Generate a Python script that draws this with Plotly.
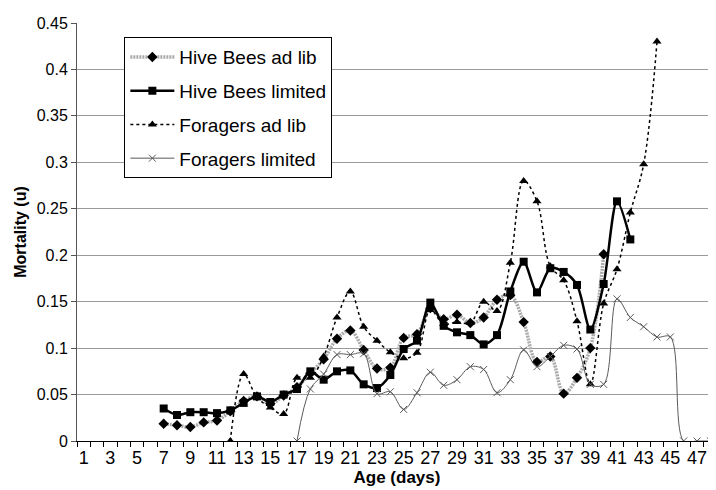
import plotly.graph_objects as go

# ages (days) for each series
dias_hive_adlib = list(range(7, 41))
dias_hive_lim = list(range(7, 43))
dias_forr_adlib = list(range(12, 45))
dias_forr_lim = list(range(17, 49))

hive_adlib = [0.0185, 0.017, 0.015, 0.02, 0.022, 0.032, 0.043, 0.048, 0.04, 0.049,
              0.058, 0.073, 0.088, 0.11, 0.119, 0.098, 0.078, 0.079, 0.111, 0.115,
              0.143, 0.131, 0.136, 0.127, 0.133, 0.152, 0.157, 0.128, 0.085, 0.091,
              0.051, 0.068, 0.1, 0.201]

hive_lim = [0.035, 0.028, 0.031, 0.031, 0.030, 0.033, 0.041, 0.048, 0.042, 0.050,
            0.056, 0.075, 0.066, 0.075, 0.076, 0.061, 0.057, 0.071, 0.099, 0.108,
            0.149, 0.124, 0.117, 0.114, 0.104, 0.114, 0.161, 0.193, 0.16, 0.186,
            0.182, 0.168, 0.12, 0.169, 0.258, 0.217]

forr_adlib = [0, 0.072, 0.047, 0.036, 0.029, 0.068, 0.068, 0.091, 0.133, 0.161,
              0.123, 0.108, 0.0955, 0.089, 0.095, 0.141, 0.126, 0.128, 0.127, 0.15,
              0.14, 0.192, 0.28, 0.258, 0.188, 0.173, 0.129, 0.061, 0.148, 0.185,
              0.246, 0.298, 0.43]

forr_lim = [0, 0.056, 0.072, 0.093, 0.093, 0.094, 0.051, 0.053, 0.034, 0.052,
            0.074, 0.06, 0.066, 0.08, 0.077, 0.052, 0.066, 0.098, 0.08, 0.091,
            0.103, 0.099, 0.061, 0.061, 0.153, 0.133, 0.123, 0.112, 0.112, 0,
            0, 0]

rotulos_x = list(range(1, 48, 2))
fronteiras_x = [d + 0.5 for d in range(0, 49)]

fig = go.Figure()

fig.add_trace(go.Scatter(
    x=dias_hive_adlib, y=hive_adlib, name='Hive Bees ad lib', legendgroup='a',
    mode='lines+markers', line=dict(color='#aaaaaa', width=3.5, dash='2px,1px',
                                    shape='spline', smoothing=1),
    marker=dict(symbol='diamond', size=8, color='black')
))
fig.add_trace(go.Scatter(
    x=dias_hive_lim, y=hive_lim, name='Hive Bees limited', legendgroup='b',
    mode='lines+markers', line=dict(color='black', width=2.5, shape='spline', smoothing=0.8),
    marker=dict(symbol='square', size=8, color='black')
))
fig.add_trace(go.Scatter(
    x=dias_forr_adlib, y=forr_adlib, name='Foragers ad lib', legendgroup='c',
    mode='lines+markers', line=dict(color='black', width=1.5, dash='dot',
                                    shape='spline', smoothing=1),
    marker=dict(symbol='triangle-up', size=8, color='black')
))
fig.add_trace(go.Scatter(
    x=dias_forr_lim, y=forr_lim, name='Foragers limited', legendgroup='d',
    mode='lines+markers', line=dict(color='#5a5a5a', width=1, shape='spline', smoothing=1),
    marker=dict(symbol='x-thin', size=7, line=dict(color='#5a5a5a', width=1))
))

fig.update_layout(
    width=716, height=490,
    margin=dict(l=69, r=7, t=13, b=57),
    paper_bgcolor='white', plot_bgcolor='white',
    font=dict(family='Liberation Sans, Arial, sans-serif', color='black', size=16),
    showlegend=True,
    legend=dict(x=0.074, y=0.966, xanchor='left', yanchor='top',
                bordercolor='black', borderwidth=1, bgcolor='white',
                font=dict(size=19), tracegroupgap=6, itemwidth=44,
                entrywidth=225, entrywidthmode='pixels'),
)

fig.update_xaxes(
    range=[0.5, 48.5], tickmode='array', tickvals=rotulos_x, ticklen=0,
    tickfont=dict(size=18), showgrid=False, zeroline=False,
    showline=True, linecolor='black', linewidth=1,
    minor=dict(tickmode='array', tickvals=fronteiras_x, ticks='outside',
               ticklen=5, tickcolor='black', showgrid=False),
    title=dict(text='<b>Age (days)</b>', font=dict(size=17), standoff=3)
)
fig.update_yaxes(
    range=[0, 0.45], dtick=0.05, showgrid=True, gridcolor='#9a9a9a', gridwidth=1,
    zeroline=False, showline=True, linecolor='#555555', linewidth=1,
    ticks='outside', ticklen=5, tickcolor='#555555', tickfont=dict(size=16),
    title=dict(text='<b>Mortality (u)</b>', font=dict(size=16), standoff=6)
)

fig.write_html("out.html")
